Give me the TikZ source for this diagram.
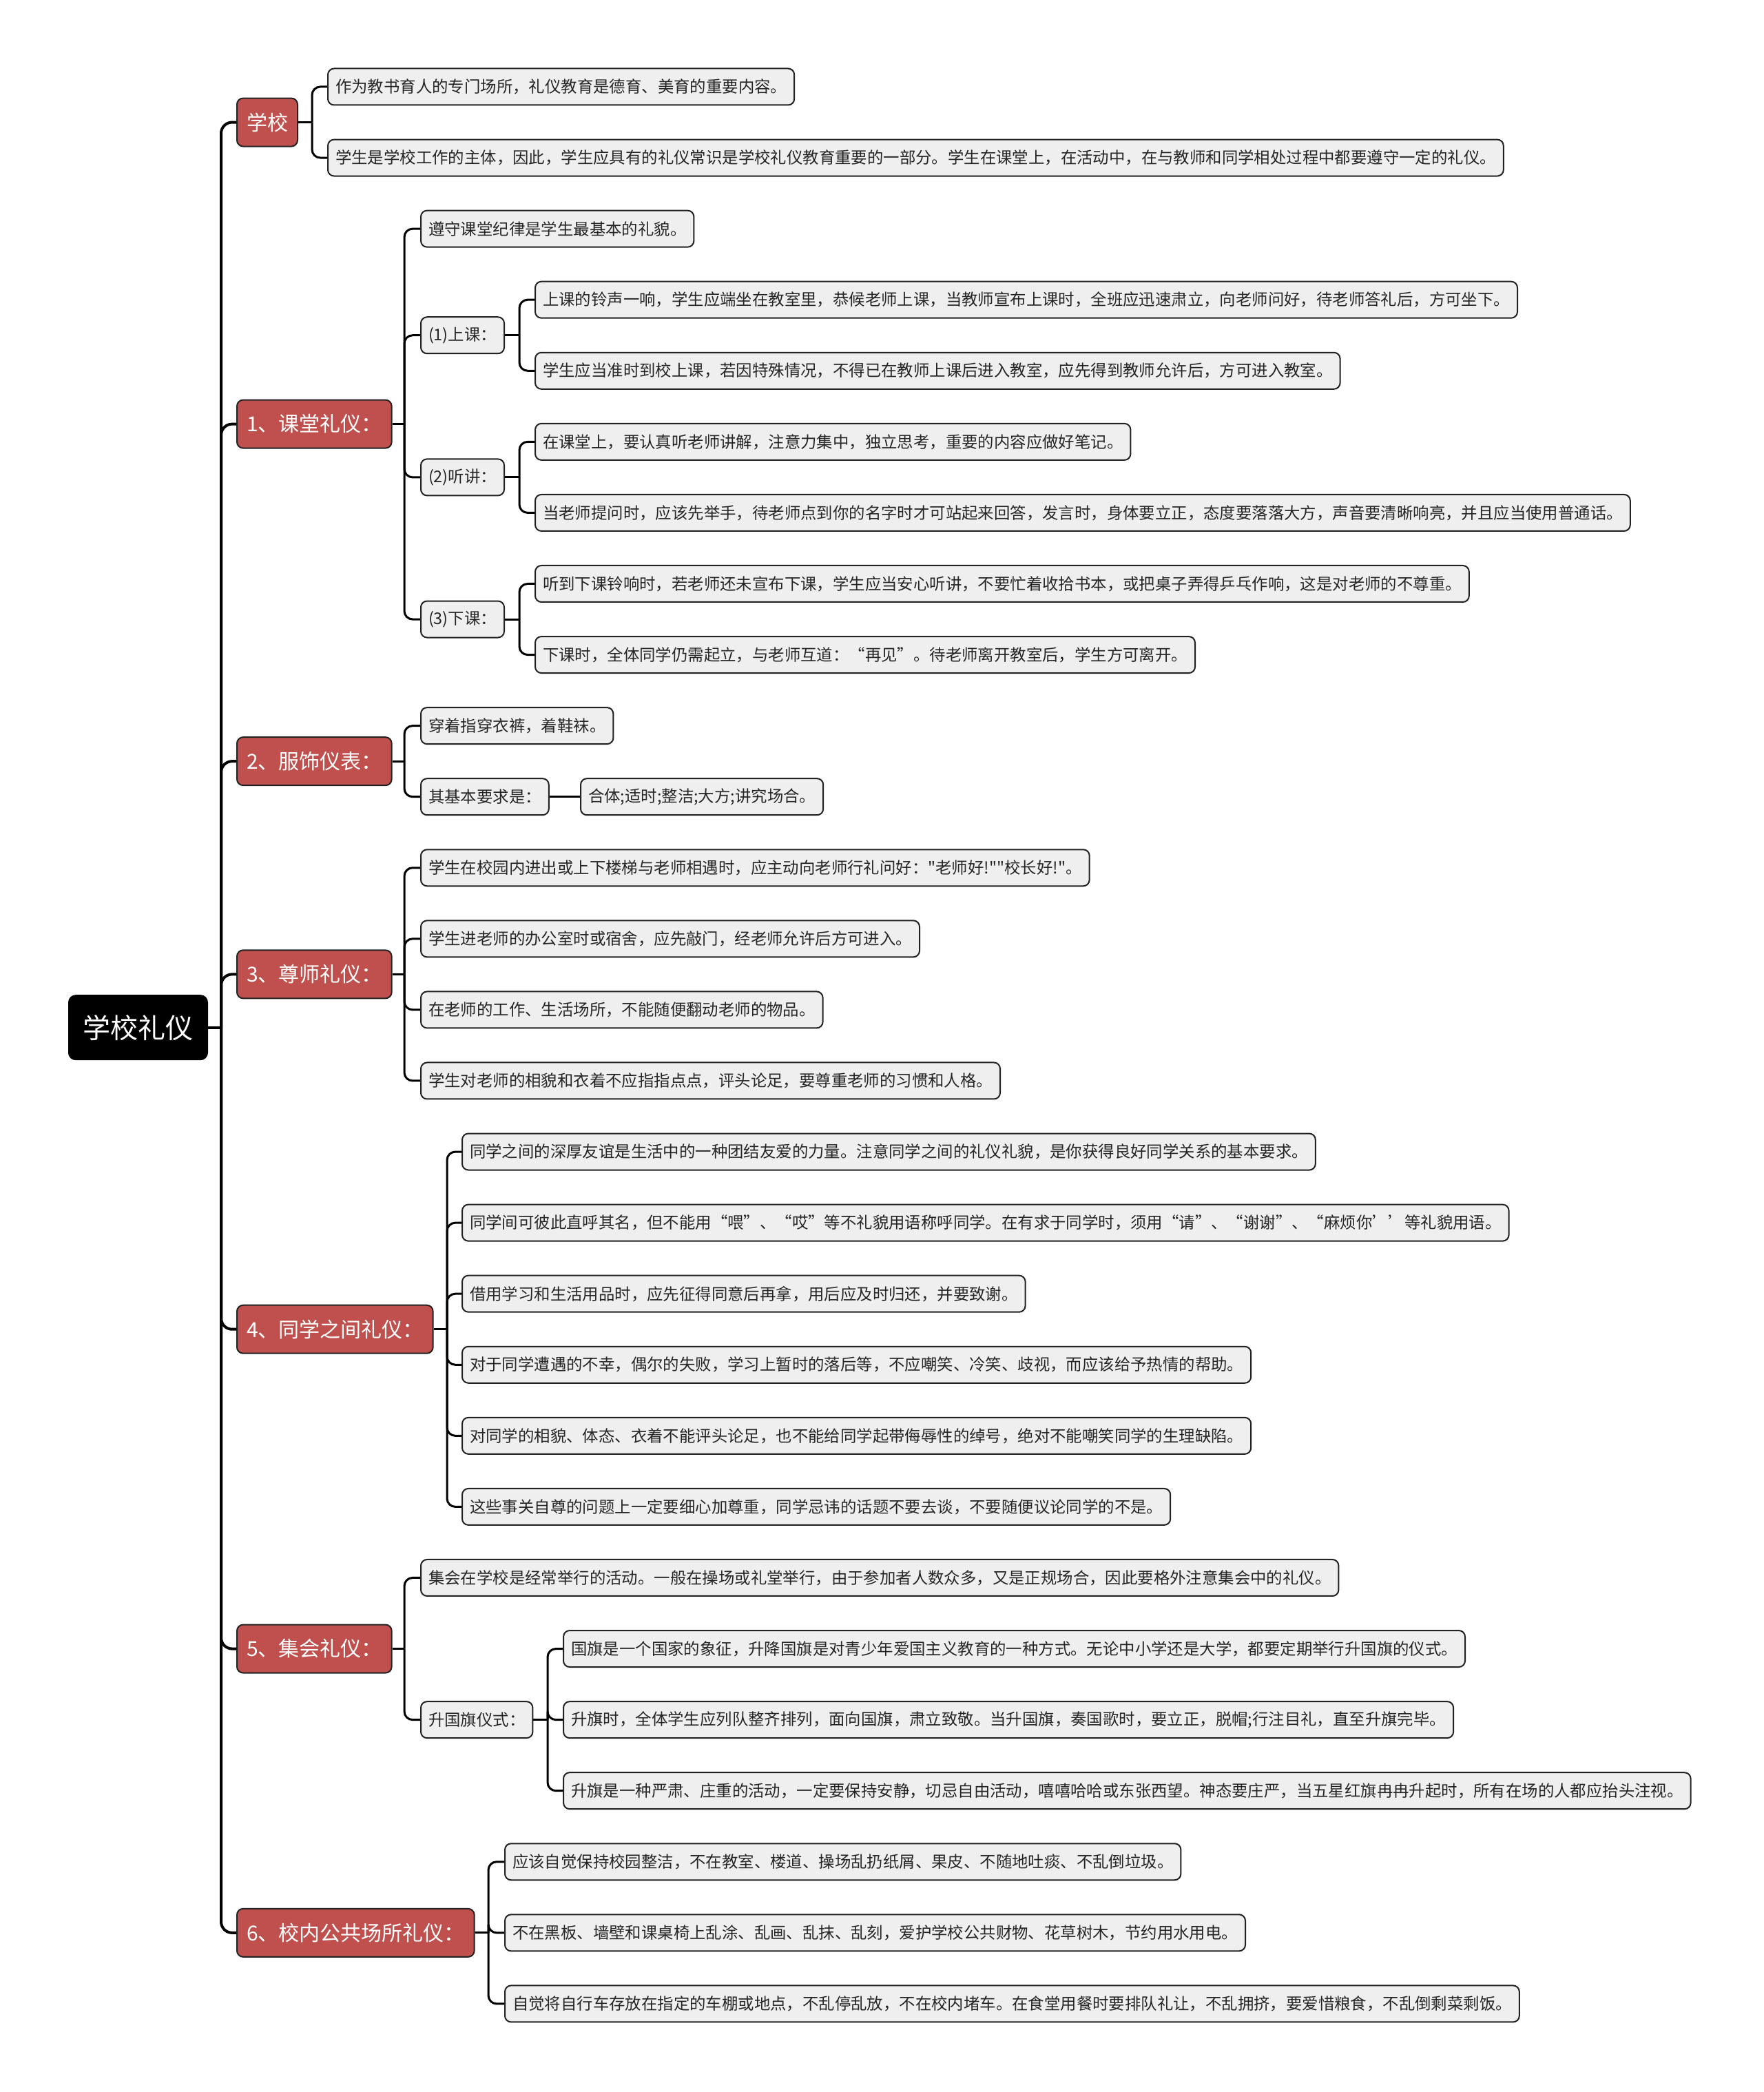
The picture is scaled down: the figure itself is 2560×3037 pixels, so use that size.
\documentclass[tikz,border=0pt]{standalone}
\usepackage{fontspec}
\newfontfamily\cjk{Noto Sans CJK SC}
\usetikzlibrary{positioning,calc}
\definecolor{topicred}{HTML}{C0504D}
\definecolor{leafgray}{HTML}{EFEFEF}
\definecolor{edgedark}{HTML}{222222}
\definecolor{inkdark}{HTML}{262626}
% row positions of the leaves, 103 px apart
\newcommand{\ry}[1]{126+103.07*(#1-1)}

\begin{document}
\begin{tikzpicture}[
    x=1pt,y=-1pt,
    rootbox/.style={draw=black,fill=black,text=white,rounded corners=10pt,minimum width=201pt,minimum height=93pt,anchor=west,line width=2pt,font=\cjk\fontsize{40}{48}\selectfont},
    topic/.style={draw=edgedark,fill=topicred,text=white,rounded corners=9pt,minimum height=70pt,inner xsep=14pt,anchor=west,line width=2pt,font=\cjk\fontsize{30}{36}\selectfont},
    leaf/.style={draw=edgedark,fill=leafgray,text=inkdark,rounded corners=9pt,minimum height=53pt,inner xsep=11pt,anchor=west,line width=2pt,font=\cjk\fontsize{23.4}{28}\selectfont},
    trunk/.style={draw=black,line width=4pt,rounded corners=16pt},
    link/.style={draw=black,line width=3pt,rounded corners=12pt}
]
    \useasboundingbox (0,0) rectangle (2560,3037);

    % root and main topics
    \node[rootbox] (root) at (99,{\ry{14.25}}) {学校礼仪};
    \node[topic] (t0) at (343,{\ry{1.5}}) {学校};
    \node[topic] (t1) at (343,{\ry{5.75}}) {1、课堂礼仪：};
    \node[topic] (t2) at (343,{\ry{10.5}}) {2、服饰仪表：};
    \node[topic] (t3) at (343,{\ry{13.5}}) {3、尊师礼仪：};
    \node[topic] (t4) at (343,{\ry{18.5}}) {4、同学之间礼仪：};
    \node[topic] (t5) at (343,{\ry{23}}) {5、集会礼仪：};
    \node[topic] (t6) at (343,{\ry{27}}) {6、校内公共场所礼仪：};

    % 学校
    \node[leaf] (l01) at (475,{\ry{1}}) {作为教书育人的专门场所，礼仪教育是德育、美育的重要内容。};
    \node[leaf] (l02) at (475,{\ry{2}}) {学生是学校工作的主体，因此，学生应具有的礼仪常识是学校礼仪教育重要的一部分。学生在课堂上，在活动中，在与教师和同学相处过程中都要遵守一定的礼仪。};

    % 1
    \node[leaf] (l11) at (610,{\ry{3}}) {遵守课堂纪律是学生最基本的礼貌。};
    \node[leaf] (l12) at (610,{\ry{4.5}}) {(1)上课：};
    \node[leaf] (l13) at (610,{\ry{6.5}}) {(2)听讲：};
    \node[leaf] (l14) at (610,{\ry{8.5}}) {(3)下课：};
    \node[leaf] (l121) at (776,{\ry{4}}) {上课的铃声一响，学生应端坐在教室里，恭候老师上课，当教师宣布上课时，全班应迅速肃立，向老师问好，待老师答礼后，方可坐下。};
    \node[leaf] (l122) at (776,{\ry{5}}) {学生应当准时到校上课，若因特殊情况，不得已在教师上课后进入教室，应先得到教师允许后，方可进入教室。};
    \node[leaf] (l131) at (776,{\ry{6}}) {在课堂上，要认真听老师讲解，注意力集中，独立思考，重要的内容应做好笔记。};
    \node[leaf] (l132) at (776,{\ry{7}}) {当老师提问时，应该先举手，待老师点到你的名字时才可站起来回答，发言时，身体要立正，态度要落落大方，声音要清晰响亮，并且应当使用普通话。};
    \node[leaf] (l141) at (776,{\ry{8}}) {听到下课铃响时，若老师还未宣布下课，学生应当安心听讲，不要忙着收拾书本，或把桌子弄得乒乓作响，这是对老师的不尊重。};
    \node[leaf] (l142) at (776,{\ry{9}}) {下课时，全体同学仍需起立，与老师互道：“再见”。待老师离开教室后，学生方可离开。};

    % 2
    \node[leaf] (l21) at (610,{\ry{10}}) {穿着指穿衣裤，着鞋袜。};
    \node[leaf] (l22) at (610,{\ry{11}}) {其基本要求是：};
    \node[leaf] (l221) at (842,{\ry{11}}) {合体;适时;整洁;大方;讲究场合。};

    % 3
    \node[leaf] (l31) at (610,{\ry{12}}) {学生在校园内进出或上下楼梯与老师相遇时，应主动向老师行礼问好："老师好!""校长好!"。};
    \node[leaf] (l32) at (610,{\ry{13}}) {学生进老师的办公室时或宿舍，应先敲门，经老师允许后方可进入。};
    \node[leaf] (l33) at (610,{\ry{14}}) {在老师的工作、生活场所，不能随便翻动老师的物品。};
    \node[leaf] (l34) at (610,{\ry{15}}) {学生对老师的相貌和衣着不应指指点点，评头论足，要尊重老师的习惯和人格。};

    % 4
    \node[leaf] (l41) at (670,{\ry{16}}) {同学之间的深厚友谊是生活中的一种团结友爱的力量。注意同学之间的礼仪礼貌，是你获得良好同学关系的基本要求。};
    \node[leaf] (l42) at (670,{\ry{17}}) {同学间可彼此直呼其名，但不能用“喂”、“哎”等不礼貌用语称呼同学。在有求于同学时，须用“请”、“谢谢”、“麻烦你’’等礼貌用语。};
    \node[leaf] (l43) at (670,{\ry{18}}) {借用学习和生活用品时，应先征得同意后再拿，用后应及时归还，并要致谢。};
    \node[leaf] (l44) at (670,{\ry{19}}) {对于同学遭遇的不幸，偶尔的失败，学习上暂时的落后等，不应嘲笑、冷笑、歧视，而应该给予热情的帮助。};
    \node[leaf] (l45) at (670,{\ry{20}}) {对同学的相貌、体态、衣着不能评头论足，也不能给同学起带侮辱性的绰号，绝对不能嘲笑同学的生理缺陷。};
    \node[leaf] (l46) at (670,{\ry{21}}) {这些事关自尊的问题上一定要细心加尊重，同学忌讳的话题不要去谈，不要随便议论同学的不是。};

    % 5
    \node[leaf] (l51) at (610,{\ry{22}}) {集会在学校是经常举行的活动。一般在操场或礼堂举行，由于参加者人数众多，又是正规场合，因此要格外注意集会中的礼仪。};
    \node[leaf] (l52) at (610,{\ry{24}}) {升国旗仪式：};
    \node[leaf] (l521) at (817,{\ry{23}}) {国旗是一个国家的象征，升降国旗是对青少年爱国主义教育的一种方式。无论中小学还是大学，都要定期举行升国旗的仪式。};
    \node[leaf] (l522) at (817,{\ry{24}}) {升旗时，全体学生应列队整齐排列，面向国旗，肃立致敬。当升国旗，奏国歌时，要立正，脱帽;行注目礼，直至升旗完毕。};
    \node[leaf] (l523) at (817,{\ry{25}}) {升旗是一种严肃、庄重的活动，一定要保持安静，切忌自由活动，嘻嘻哈哈或东张西望。神态要庄严，当五星红旗冉冉升起时，所有在场的人都应抬头注视。};

    % 6
    \node[leaf] (l61) at (732,{\ry{26}}) {应该自觉保持校园整洁，不在教室、楼道、操场乱扔纸屑、果皮、不随地吐痰、不乱倒垃圾。};
    \node[leaf] (l62) at (732,{\ry{27}}) {不在黑板、墙壁和课桌椅上乱涂、乱画、乱抹、乱刻，爱护学校公共财物、花草树木，节约用水用电。};
    \node[leaf] (l63) at (732,{\ry{28}}) {自觉将自行车存放在指定的车棚或地点，不乱停乱放，不在校内堵车。在食堂用餐时要排队礼让，不乱拥挤，要爱惜粮食，不乱倒剩菜剩饭。};

    % branch points
    \coordinate (tk) at (321,{\ry{14.25}});
    \coordinate (b0) at (453,{\ry{1.5}});
    \coordinate (b1) at (587,{\ry{5.75}});
    \coordinate (b12) at (754,{\ry{4.5}});
    \coordinate (b13) at (754,{\ry{6.5}});
    \coordinate (b14) at (754,{\ry{8.5}});
    \coordinate (b2) at (587,{\ry{10.5}});
    \coordinate (b3) at (587,{\ry{13.5}});
    \coordinate (b4) at (649,{\ry{18.5}});
    \coordinate (b5) at (587,{\ry{23}});
    \coordinate (b52) at (795,{\ry{24}});
    \coordinate (b6) at (709,{\ry{27}});

    % connectors
    \draw[trunk] (root.east) -- (tk);
    \foreach \n in {t0,t1,t2,t3,t4,t5,t6} \draw[trunk] (tk) |- (\n.west);

    \draw[link] (t0.east) -- (b0);
    \foreach \n in {l01,l02} \draw[link] (b0) |- (\n.west);
    \draw[link] (t1.east) -- (b1);
    \foreach \n in {l11,l12,l13,l14} \draw[link] (b1) |- (\n.west);
    \draw[link] (l12.east) -- (b12);
    \foreach \n in {l121,l122} \draw[link] (b12) |- (\n.west);
    \draw[link] (l13.east) -- (b13);
    \foreach \n in {l131,l132} \draw[link] (b13) |- (\n.west);
    \draw[link] (l14.east) -- (b14);
    \foreach \n in {l141,l142} \draw[link] (b14) |- (\n.west);
    \draw[link] (t2.east) -- (b2);
    \foreach \n in {l21,l22} \draw[link] (b2) |- (\n.west);
    \draw[link] (l22.east) -- (l221.west);
    \draw[link] (t3.east) -- (b3);
    \foreach \n in {l31,l32,l33,l34} \draw[link] (b3) |- (\n.west);
    \draw[link] (t4.east) -- (b4);
    \foreach \n in {l41,l42,l43,l44,l45,l46} \draw[link] (b4) |- (\n.west);
    \draw[link] (t5.east) -- (b5);
    \foreach \n in {l51,l52} \draw[link] (b5) |- (\n.west);
    \draw[link] (l52.east) -- (b52);
    \foreach \n in {l521,l522,l523} \draw[link] (b52) |- (\n.west);
    \draw[link] (t6.east) -- (b6);
    \foreach \n in {l61,l62,l63} \draw[link] (b6) |- (\n.west);
\end{tikzpicture}
\end{document}
